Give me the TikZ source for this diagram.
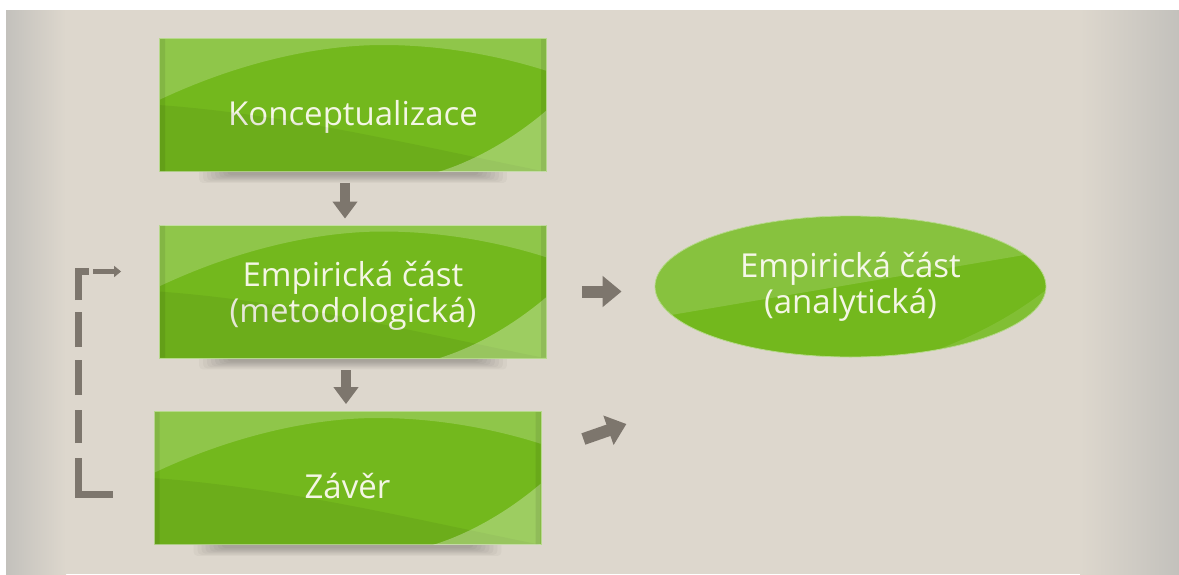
\documentclass[tikz,border=0pt]{standalone}
\usepackage{fontspec}
\setmainfont{Open Sans}
\usetikzlibrary{calc,positioning,arrows.meta,shapes.geometric}
\definecolor{bgbeige}{HTML}{DDD7CD}
\definecolor{bggray}{HTML}{C3C1BC}
\definecolor{boxgreen}{HTML}{73B81D}
\definecolor{boxedge}{HTML}{B7D98C}
\definecolor{txtcream}{HTML}{F4F6E4}
\definecolor{arrowgray}{HTML}{7D766D}
\pgfdeclarelayer{back}
\pgfdeclarelayer{behind}
\pgfsetlayers{back,behind,main}

\begin{document}
\begin{tikzpicture}[x=1pt,y=-1pt,
  box/.style={rectangle,fill=boxgreen,draw=boxedge,line width=.8pt,minimum width=387pt,minimum height=133pt,inner sep=0pt,
    text=txtcream,align=center,font=\fontsize{33}{36}\selectfont,text depth=0pt,
    execute at begin node={\rule{0pt}{40pt}}},
  oval/.style={ellipse,fill=boxgreen,draw=boxedge,line width=.8pt,minimum width=391pt,minimum height=141pt,inner sep=0pt,
    text=txtcream,align=center,font=\fontsize{33}{36}\selectfont},
  gloss/.style={white,opacity=.2},
  blockarrow/.style={draw=arrowgray,line width=10pt,-{Triangle[length=17pt,width=24pt]}},
  bigarrow/.style={draw=arrowgray,line width=12pt,-{Triangle[length=19pt,width=30pt]}},
  fbline/.style={draw=arrowgray,line width=7pt,line join=miter,
    dash pattern=on 70pt off 15pt on 33pt off 15pt on 35pt off 13pt on 35pt off 12pt on 60pt},
  fbarrow/.style={draw=arrowgray,line width=5pt,-{Triangle[length=7pt,width=11pt]}}]

  \begin{pgfonlayer}{back}
    \fill[white] (0,0) rectangle (1179,574);
    \fill[bgbeige] (6,10) rectangle (1179,574);
    \shade[left color=bggray,right color=bgbeige] (6,10) rectangle (66,574);
    \shade[left color=bgbeige,right color=bggray] (1080,10) rectangle (1179,574);
  \end{pgfonlayer}
  \useasboundingbox (0,0) rectangle (1179,574);

  \node[box] (kon) at (353,105) {Konceptualizace};
  \node[box] (metod) at (353,291.5) {Empirická část\\(metodologická)};
  \node[box] (zaver) at (347.5,478) {Závěr};
  \node[oval] (ana) at (850.5,286.5) {Empirická část\\(analytická)};

  % glossy look of the boxes
  \foreach \b in {kon,metod,zaver}{
    \begin{scope}[shift={(\b.center)},x=1pt,y=1pt]
      \clip (-193,-66) rectangle (193,66);
      \fill[gloss] (-194,67) -- (-194,5) .. controls (-120,40) and (-40,60) .. (30,60) .. controls (100,60) and (160,45) .. (194,34) -- (194,67) -- cycle;
      \fill[black,opacity=.06] (-194,-67) -- (-194,0) .. controls (-60,-10) and (60,-40) .. (194,-67) -- cycle;
      \fill[gloss,opacity=.3] (194,-67) -- (194,-5) .. controls (165,-30) and (125,-55) .. (85,-67) -- cycle;
      \fill[black,opacity=.08] (-193,-66) rectangle (-188,66) (188,-66) rectangle (193,66);
    \end{scope}}
  \begin{scope}[shift={(ana.center)},x=1pt,y=1pt]
    \clip (0,0) ellipse (195pt and 70pt);
    \fill[gloss,opacity=.15] (-200,-32) -- (200,36) -- (200,80) -- (-200,80) -- cycle;
    \fill[gloss,opacity=.1] (200,-80) -- (200,0) .. controls (150,-40) and (100,-60) .. (40,-80) -- cycle;
  \end{scope}

  % soft shadows under the boxes
  \begin{pgfonlayer}{behind}
    \foreach \b in {kon,metod,zaver}
      \foreach \i in {0,...,7}
        \fill[black,opacity=.03,rounded corners=4pt] ([xshift={40pt+4pt*\i},yshift=10pt]\b.south west) rectangle ([xshift={-40pt-4pt*\i},yshift={-11pt+1.1pt*\i}]\b.south east);
  \end{pgfonlayer}

  \draw[blockarrow,shorten <=11pt,shorten >=6pt] ([xshift=-8pt]kon.south) -- ([xshift=-8pt]metod.north);
  \draw[blockarrow,shorten <=12pt,shorten >=7pt] ([xshift=-7pt]metod.south) -- ([xshift=-7pt]metod.south |- zaver.north);
  \draw[bigarrow,shorten <=35pt,shorten >=33pt] (metod.east) -- (metod.east -| ana.west);
  \draw[bigarrow] ([shift={(42pt,39pt)}]zaver.east) -- ([shift={(85pt,54pt)}]zaver.east);

  % feedback loop
  \coordinate (fbstart) at ([xshift=-41pt,yshift=-16pt]zaver.west);
  \coordinate (fbtop) at ([xshift=-80.5pt,yshift=20pt]metod.west);
  \coordinate (fbend) at ([xshift=-70pt,yshift=20pt]metod.west);
  \draw[fbline] (fbstart) -| (fbtop) -- (fbend);
  \draw[fbarrow] ([xshift=-66pt,yshift=20pt]metod.west) -- ([xshift=-38pt,yshift=20pt]metod.west);
\end{tikzpicture}
\end{document}
